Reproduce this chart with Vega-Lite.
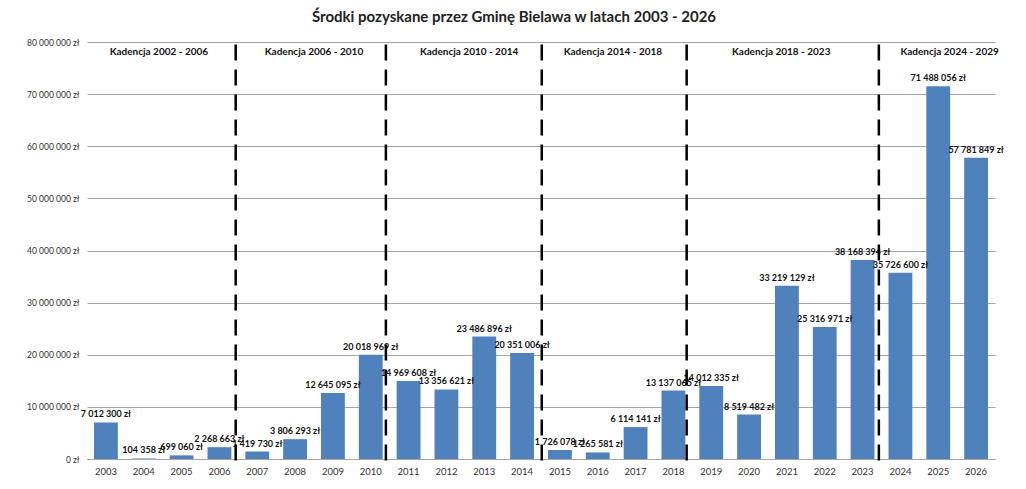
{
  "$schema": "https://vega.github.io/schema/vega-lite/v6.json",
  "width": 1026,
  "height": 489,
  "autosize": {"type": "fit", "contains": "padding"},
  "padding": {"left": 26, "right": 24, "top": 10, "bottom": 13},
  "background": "white",
  "config": {
    "font": "Lato",
    "view": {"stroke": null},
    "locale": {
      "number": {"decimal": ",", "thousands": " ", "grouping": [3], "currency": ["", " zł"]}
    }
  },
  "title": {
    "text": "Środki pozyskane przez Gminę Bielawa w latach 2003 - 2026",
    "fontSize": 15,
    "fontWeight": "bold",
    "color": "#222222",
    "anchor": "middle",
    "offset": 13,
    "dx": -27
  },
  "datasets": {
    "funds": [
      {"year": 2003, "amount": 7012300},
      {"year": 2004, "amount": 104358},
      {"year": 2005, "amount": 699060},
      {"year": 2006, "amount": 2268663},
      {"year": 2007, "amount": 1419730},
      {"year": 2008, "amount": 3806293},
      {"year": 2009, "amount": 12645095},
      {"year": 2010, "amount": 20018969},
      {"year": 2011, "amount": 14969608},
      {"year": 2012, "amount": 13356621},
      {"year": 2013, "amount": 23486896},
      {"year": 2014, "amount": 20351006},
      {"year": 2015, "amount": 1726078},
      {"year": 2016, "amount": 1265581},
      {"year": 2017, "amount": 6114141},
      {"year": 2018, "amount": 13137065},
      {"year": 2019, "amount": 14012335},
      {"year": 2020, "amount": 8519482},
      {"year": 2021, "amount": 33219129},
      {"year": 2022, "amount": 25316971},
      {"year": 2023, "amount": 38168394},
      {"year": 2024, "amount": 35726600},
      {"year": 2025, "amount": 71488056},
      {"year": 2026, "amount": 57781849}
    ],
    "terms": [
      {"label": "Kadencja 2002 - 2006", "mid": 2004.4, "boundary": 2006.43, "top": 79500000, "bottom": -1500000, "labelY": 78100000},
      {"label": "Kadencja 2006 - 2010", "mid": 2008.5, "boundary": 2010.4, "top": 79500000, "bottom": -1500000, "labelY": 78100000},
      {"label": "Kadencja 2010 - 2014", "mid": 2012.6, "boundary": 2014.52, "top": 79500000, "bottom": -1500000, "labelY": 78100000},
      {"label": "Kadencja 2014 - 2018", "mid": 2016.4, "boundary": 2018.35, "top": 79500000, "bottom": -1500000, "labelY": 78100000},
      {"label": "Kadencja 2018 - 2023", "mid": 2020.85, "boundary": 2023.43, "top": 79500000, "bottom": -1500000, "labelY": 78100000},
      {"label": "Kadencja 2024 - 2029", "mid": 2025.3, "labelY": 78100000}
    ]
  },
  "layer": [
    {
      "data": {"name": "funds"},
      "encoding": {
        "x": {
          "field": "year",
          "type": "ordinal",
          "scale": {"paddingInner": 0.37, "paddingOuter": 0.185},
          "axis": {
            "title": null,
            "labelAngle": 0,
            "labelFontSize": 9.5,
            "labelColor": "#333333",
            "labelPadding": 7,
            "ticks": false,
            "domainColor": "#a6a6a6",
            "grid": false
          }
        },
        "y": {
          "field": "amount",
          "type": "quantitative",
          "scale": {"domain": [0, 80000000], "nice": false},
          "axis": {
            "title": null,
            "format": "$,d",
            "values": [0, 10000000, 20000000, 30000000, 40000000, 50000000, 60000000, 70000000, 80000000],
            "labelFontSize": 8.5,
            "labelColor": "#333333",
            "labelPadding": 8,
            "domain": false,
            "ticks": false,
            "gridColor": "#a6a6a6",
            "gridWidth": 1
          }
        }
      },
      "layer": [
        {"mark": {"type": "bar", "color": "#4f81bd"}},
        {
          "mark": {"type": "text", "baseline": "bottom", "dy": -3, "fontSize": 9, "fontWeight": "bold", "color": "#111111"},
          "encoding": {"text": {"field": "amount", "type": "quantitative", "format": "$,d"}}
        }
      ]
    },
    {
      "data": {"name": "terms"},
      "layer": [
        {
          "transform": [{"filter": "isValid(datum.boundary)"}],
          "mark": {"type": "rule", "color": "black", "strokeWidth": 2.5, "strokeDash": [16, 9]},
          "encoding": {
            "x": {"field": "boundary", "type": "quantitative", "scale": {"domain": [2002.5, 2026.5], "nice": false, "zero": false}, "axis": null},
            "y": {"field": "top", "type": "quantitative"},
            "y2": {"field": "bottom"}
          }
        },
        {
          "mark": {"type": "text", "baseline": "middle", "align": "center", "fontSize": 10, "fontWeight": "bold", "color": "#111111"},
          "encoding": {
            "x": {"field": "mid", "type": "quantitative", "scale": {"domain": [2002.5, 2026.5], "nice": false, "zero": false}, "axis": null},
            "y": {"field": "labelY", "type": "quantitative"},
            "text": {"field": "label"}
          }
        }
      ]
    }
  ],
  "resolve": {"scale": {"x": "independent"}, "axis": {"x": "independent"}}
}
